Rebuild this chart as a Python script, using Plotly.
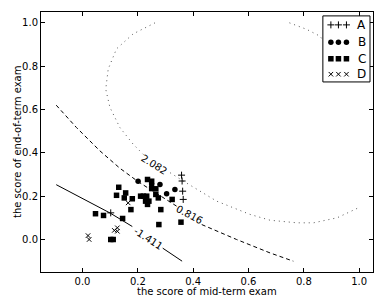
import plotly.graph_objects as go

# ---- scatter data (mid-term score, end-of-term score) ----
a_x = [0.358, 0.360, 0.362, 0.364, 0.102]
a_y = [0.297, 0.270, 0.223, 0.185, 0.123]

b_x = [0.201, 0.280, 0.304, 0.334, 0.250]
b_y = [0.269, 0.254, 0.211, 0.231, 0.254]

c_x = [0.235, 0.250, 0.131, 0.123, 0.156, 0.151, 0.180, 0.175, 0.145, 0.047,
       0.076, 0.102, 0.111, 0.250, 0.265, 0.220, 0.232, 0.228, 0.240, 0.235,
       0.274, 0.265, 0.324, 0.283, 0.276, 0.356, 0.210]
c_y = [0.277, 0.269, 0.241, 0.204, 0.215, 0.192, 0.188, 0.138, 0.097, 0.119,
       0.111, 0.000, 0.000, 0.235, 0.234, 0.200, 0.200, 0.177, 0.177, 0.162,
       0.192, 0.208, 0.185, 0.138, 0.069, 0.080, 0.200]

d_x = [0.165, 0.020, 0.024, 0.115, 0.126, 0.126]
d_y = [0.169, 0.018, 0.000, 0.042, 0.054, 0.038]

# ---- contour lines (None = gap for label) ----
solid_x = [-0.095, 0.0, 0.10, 0.18, None, 0.29, 0.36]
solid_y = [0.253, 0.190, 0.122, 0.060, None, -0.040, -0.100]

dash_x = [-0.095, -0.022, 0.063, 0.135, 0.201, 0.27, 0.34, None, 0.431, 0.557, 0.678, 0.762]
dash_y = [0.620, 0.517, 0.409, 0.329, 0.267, 0.21, 0.154, None, 0.069, 0.000, -0.062, -0.100]

dot_x = [0.262, 0.183, 0.123, 0.093, 0.084, 0.099, 0.135, 0.183, 0.225, None,
         0.317, 0.364, 0.485, 0.605, 0.678, 0.775, 0.835, 0.92, 0.995, None,
         0.748, 0.81, 0.859, 0.871]
dot_y = [1.000, 0.949, 0.880, 0.787, 0.694, 0.610, 0.517, 0.440, 0.386, None,
         0.308, 0.270, 0.177, 0.116, 0.089, 0.077, 0.077, 0.100, 0.145, None,
         1.000, 0.970, 0.938, 0.915]

contour_labels = ["2.082", "0.816", "-1.411"]
label_x = [0.259, 0.385, 0.237]
label_y = [0.347, 0.114, 0.003]
label_angle = [32, 28, 33]

legend_names = ["A", "B", "C", "D"]

FONT = "DejaVu Sans"
fig = go.Figure()

fig.add_trace(go.Scatter(x=solid_x, y=solid_y, mode="lines",
                         line=dict(color="black", width=1), showlegend=False))
fig.add_trace(go.Scatter(x=dash_x, y=dash_y, mode="lines",
                         line=dict(color="black", width=1, dash="4px,3px"), showlegend=False))
fig.add_trace(go.Scatter(x=dot_x, y=dot_y, mode="lines",
                         line=dict(color="#555", width=1, dash="1px,4px"), showlegend=False))

styles = {
    "A": dict(symbol="cross-thin", size=5, line=dict(color="black", width=1), color="black"),
    "B": dict(symbol="circle", size=5.5, color="black", line=dict(width=0)),
    "C": dict(symbol="square", size=5.5, color="black", line=dict(width=0)),
    "D": dict(symbol="x-thin", size=4.5, line=dict(color="black", width=1), color="black"),
}
for name, xs, ys in zip(legend_names, [a_x, b_x, c_x, d_x], [a_y, b_y, c_y, d_y]):
    fig.add_trace(go.Scatter(x=xs, y=ys, mode="markers", marker=styles[name],
                             name=name, showlegend=False))

# custom legend with three sample markers per entry
row_y = [0.864, 0.60, 0.35, 0.117]
sample_x = [0.17, 0.33, 0.50]
for name, ry in zip(legend_names, row_y):
    fig.add_trace(go.Scatter(x=sample_x, y=[ry] * 3, mode="markers", marker=styles[name],
                             xaxis="x2", yaxis="y2", showlegend=False, hoverinfo="skip"))
    fig.add_annotation(x=0.82, y=ry, xref="x2", yref="y2", text=name, showarrow=False,
                       font=dict(family=FONT, size=12, color="black"))

for t, lx, ly, ang in zip(contour_labels, label_x, label_y, label_angle):
    fig.add_annotation(x=lx, y=ly, text=t, showarrow=False, textangle=ang,
                       font=dict(family=FONT, size=10, color="black"))

# axis titles
fig.add_annotation(x=0.5, y=0, xref="paper", yref="paper", yshift=-19, showarrow=False,
                   xanchor="center", yanchor="middle",
                   text="the score of mid-term exam", font=dict(family=FONT, size=10, color="black"))
fig.add_annotation(x=0, y=0.5, xref="paper", yref="paper", xshift=-24, showarrow=False,
                   xanchor="center", yanchor="middle",
                   textangle=-90, text="the score of end-of-term exam",
                   font=dict(family=FONT, size=10, color="black"))

lx0, lx1, ly0, ly1 = 0.849, 0.991, 0.731, 0.985
fig.add_shape(type="rect", xref="paper", yref="paper", x0=lx0, x1=lx1, y0=ly0, y1=ly1,
              line=dict(color="black", width=1), layer="above")

axis_common = dict(showgrid=False, zeroline=False, showline=True, linecolor="black",
                   linewidth=1, mirror="ticks", ticks="inside", ticklen=4,
                   tickcolor="black", tickfont=dict(family=FONT, size=10, color="black"))
fig.update_layout(
    width=378, height=299,
    margin=dict(l=41, r=5, t=12, b=27),
    paper_bgcolor="white", plot_bgcolor="white",
    xaxis=dict(range=[-0.15, 1.05], tickvals=[0, 0.2, 0.4, 0.6, 0.8, 1.0],
               ticktext=["0.0", "0.2", "0.4", "0.6", "0.8", "1.0"], **axis_common),
    yaxis=dict(range=[-0.15, 1.05], tickvals=[0, 0.2, 0.4, 0.6, 0.8, 1.0],
               ticktext=["0.0", "0.2", "0.4", "0.6", "0.8", "1.0"], **axis_common),
    xaxis2=dict(domain=[lx0, lx1], range=[0, 1], anchor="y2", visible=False),
    yaxis2=dict(domain=[ly0, ly1], range=[0, 1], anchor="x2", visible=False),
    showlegend=False,
)

fig.write_html("out.html")
